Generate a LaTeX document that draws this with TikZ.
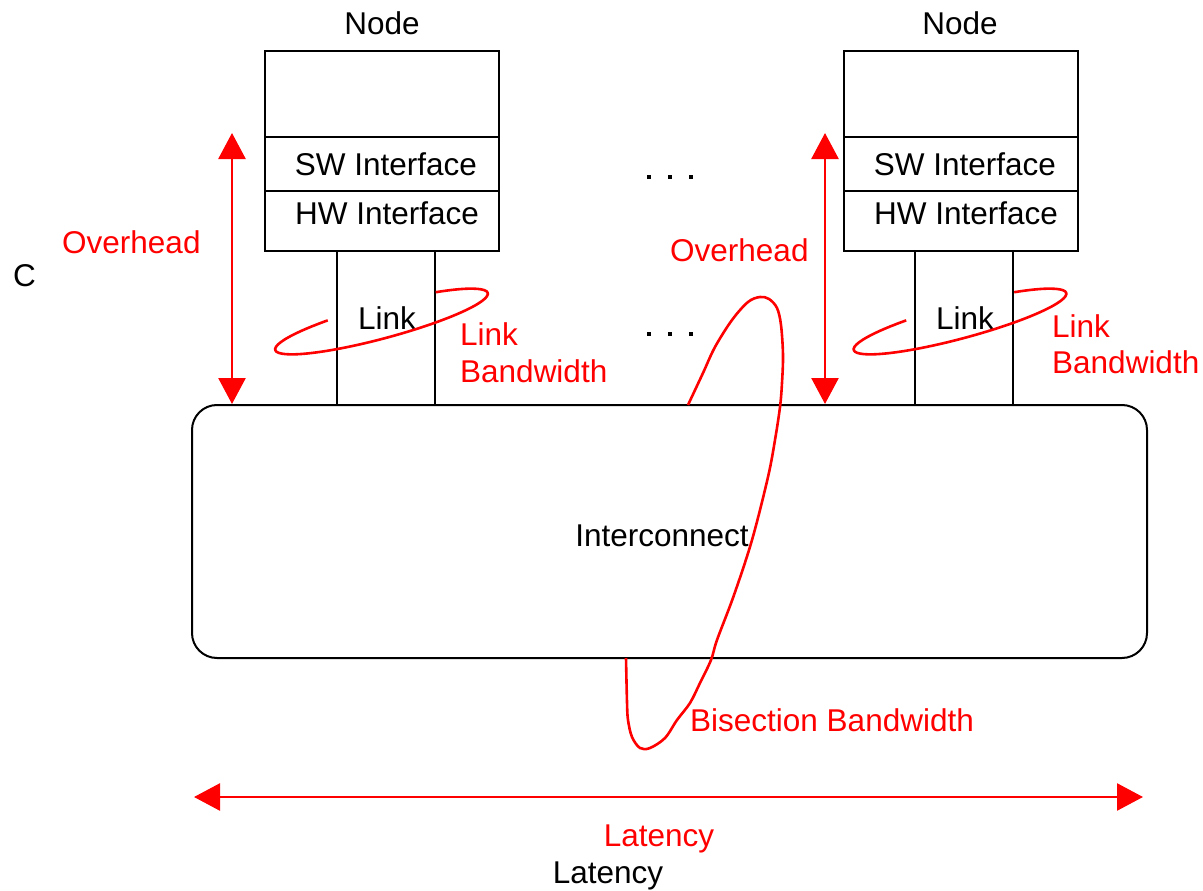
\documentclass[tikz,border=0pt]{standalone}
\usepackage{fontspec}
\setmainfont{Liberation Sans}
\usetikzlibrary{arrows.meta}
\begin{document}
\begin{tikzpicture}[x=1pt,y=1pt,
  txt/.style={font=\fontsize{31.5}{38}\selectfont, inner sep=0pt},
  redtxt/.style={txt, text=red},
  blk/.style={line width=2pt, draw=black},
  rd/.style={line width=2.6pt, draw=red},
  cell/.style={blk, minimum width=234pt, inner sep=0pt, anchor=north west},
  dbl/.style={rd, {Triangle[length=26pt,width=27pt]}-{Triangle[length=26pt,width=27pt]}},
  dotmark/.style={fill=black, rectangle, inner sep=0pt, minimum size=4.5pt}
]
\clip (0,0) rectangle (1203,-891);
\fill[white] (0,0) rectangle (1203,-891);

% ---- left node stack ----
\node[cell, minimum height=86pt] (topL) at (264,-50) {};
\node[cell, minimum height=54pt] (swL) at (264,-136) {};
\node[cell, minimum height=60pt] (hwL) at (264,-190) {};
\node[txt, anchor=base] (nodeL) at (382,-35) {Node};
\node[txt, anchor=base] (swtL) at (386,-175) {SW Interface};
\node[txt, anchor=base] (hwtL) at (387,-224) {HW Interface};

% ---- right node stack ----
\node[cell, minimum height=86pt] (topR) at (843,-50) {};
\node[cell, minimum height=54pt] (swR) at (843,-136) {};
\node[cell, minimum height=60pt] (hwR) at (843,-190) {};
\node[txt, anchor=base] (nodeR) at (960,-35) {Node};
\node[txt, anchor=base] (swtR) at (965,-175) {SW Interface};
\node[txt, anchor=base] (hwtR) at (966,-224) {HW Interface};

% ---- interconnect ----
\node[blk, draw, rounded corners=25pt, minimum width=955pt, minimum height=253pt, inner sep=0pt] (ic) at (669.5,-531.5) {};
\node[txt, anchor=base] (icT) at (662,-546) {Interconnect};

% ---- links ----
\coordinate (kLa) at (337,0);
\coordinate (kLb) at (435,0);
\coordinate (kRa) at (915,0);
\coordinate (kRb) at (1013,0);
\draw[blk] (hwL.south -| kLa) -- (ic.north -| kLa);
\draw[blk] (hwL.south -| kLb) -- (ic.north -| kLb);
\draw[blk] (hwR.south -| kRa) -- (ic.north -| kRa);
\draw[blk] (hwR.south -| kRb) -- (ic.north -| kRb);
\node[txt, anchor=base] (lkL) at (387,-329) {Link};
\node[txt, anchor=base] (lkR) at (965,-329) {Link};

% ---- ellipsis dots ----
\foreach \i/\x in {1/649,2/670,3/691}{
  \node[dotmark] (dt\i) at (\x,-177) {};
  \node[dotmark] (db\i) at (\x,-334) {};
}

% ---- link bandwidth loops (back side hidden behind the link) ----
\begin{scope}[shift={(381.5,-321.5)}, rotate=15]
  \draw[rd] ({110*cos(57)},{17*sin(57)}) arc[start angle=57, end angle=-242, x radius=110, y radius=17];
\end{scope}
\begin{scope}[shift={(960,-321.5)}, rotate=15]
  \draw[rd] ({110*cos(57)},{17*sin(57)}) arc[start angle=57, end angle=-242, x radius=110, y radius=17];
\end{scope}
\node[redtxt, anchor=base west] (lbL1) at (460,-345) {Link};
\node[redtxt, anchor=base west] (lbL2) at (460,-382) {Bandwidth};
\node[redtxt, anchor=base west] (lbR1) at (1052,-337) {Link};
\node[redtxt, anchor=base west] (lbR2) at (1052,-373) {Bandwidth};

% ---- overhead arrows ----
\coordinate (ohL) at (232,-133);
\coordinate (ohR) at (825,-133);
\draw[dbl] (ohL) -- (ohL |- ic.north);
\draw[dbl] (ohR) -- (ohR |- ic.north);
\node[redtxt, anchor=base west] (ovL) at (62,-253) {Overhead};
\node[redtxt, anchor=base west] (ovM) at (670,-261) {Overhead};

% ---- bisection loop ----
\draw[rd, line join=round] plot[smooth, tension=0.55] coordinates {
  (688,-405) (703,-373) (715,-347) (732,-320) (748,-302) (760,-297)
  (769,-299) (777,-308) (781,-325) (783,-355) (782,-383) (780,-407)
  (775,-440) (768,-477) (752,-540) (734,-595) (717,-640) (711,-660)
  (700,-683) (690,-703) (677,-720) (665,-738) (650,-748) (640,-748)
  (632,-737) (628,-720) (627,-702) (626,-658)};
\node[redtxt, anchor=base west] (bis) at (690,-731) {Bisection Bandwidth};

% ---- latency ----
\coordinate (latL) at (194,-797);
\coordinate (latR) at (1143,-797);
\draw[dbl] (latL) -- (latR);
\node[redtxt, anchor=base] (lat) at (659,-846) {Latency};
\node[txt, anchor=base] (latB) at (608,-883) {Latency};

% ---- stray letter at the left margin ----
\node[txt, anchor=base west] (cL) at (13,-286) {C};
\end{tikzpicture}
\end{document}
